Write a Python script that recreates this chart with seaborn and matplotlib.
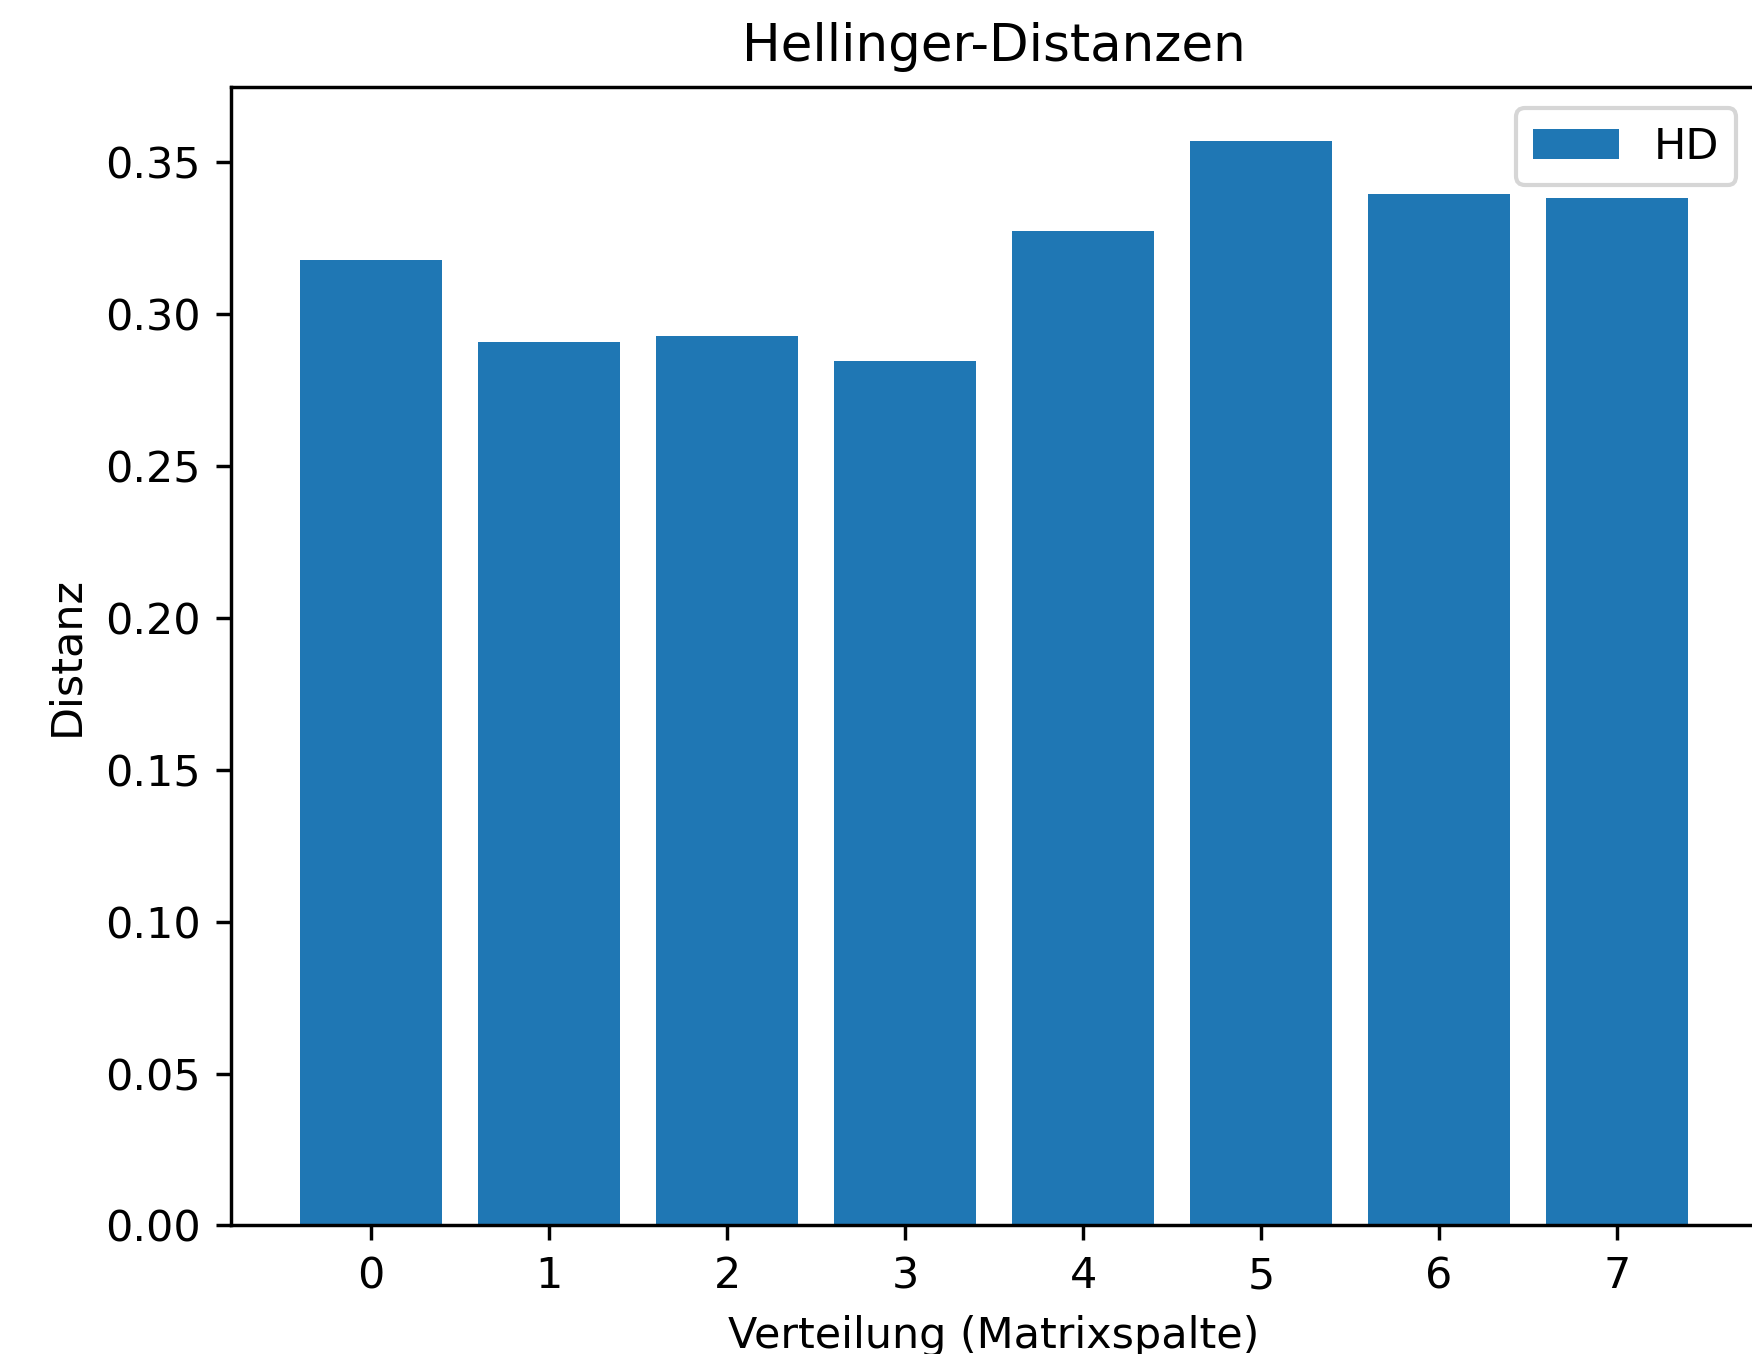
import matplotlib
matplotlib.use("Agg")
import matplotlib.pyplot as plt
import seaborn as sns
import pandas as pd

# Data
spalten = [0, 1, 2, 3, 4, 5, 6, 7]
hd_werte = [0.3177, 0.2907, 0.2927, 0.2847, 0.3274, 0.3570, 0.3397, 0.3384]
serie = "HD"
titel = "Hellinger-Distanzen"
x_label = "Verteilung (Matrixspalte)"
y_label = "Distanz"

df = pd.DataFrame({"Spalte": spalten, "Wert": hd_werte})

s = 1.03
plt.rcParams.update({
    "xtick.major.size": 3.5 * s, "ytick.major.size": 3.5 * s,
    "xtick.major.pad": 3.5 * s, "ytick.major.pad": 3.5 * s,
    "axes.linewidth": 0.8 * s, "xtick.major.width": 0.8 * s, "ytick.major.width": 0.8 * s,
    "axes.labelpad": 4.0 * s, "axes.titlepad": 6.0 * s,
})

fig = plt.figure(figsize=(1752 / 300, 1354 / 300), dpi=300)
ax = fig.add_axes([0.1316, 0.0950, 0.8716, 0.8408])

sns.barplot(data=df, x="Spalte", y="Wert", color="#1f77b4", saturation=1,
            width=0.8, label=serie, ax=ax, errorbar=None)

ax.set_xlim(-0.79, 7.79)
ax.set_ylim(0, max(hd_werte) * 1.05)
ax.set_yticks([0.0, 0.05, 0.10, 0.15, 0.20, 0.25, 0.30, 0.35])
ax.set_yticklabels(["0.00", "0.05", "0.10", "0.15", "0.20", "0.25", "0.30", "0.35"])
ax.set_title(titel, fontsize=12 * s)
ax.set_xlabel(x_label, fontsize=10 * s)
ax.set_ylabel(y_label, fontsize=10 * s)
ax.tick_params(labelsize=10 * s)
ax.legend(loc="upper right", fontsize=10 * s)

fig.savefig("out.png", dpi=300)
